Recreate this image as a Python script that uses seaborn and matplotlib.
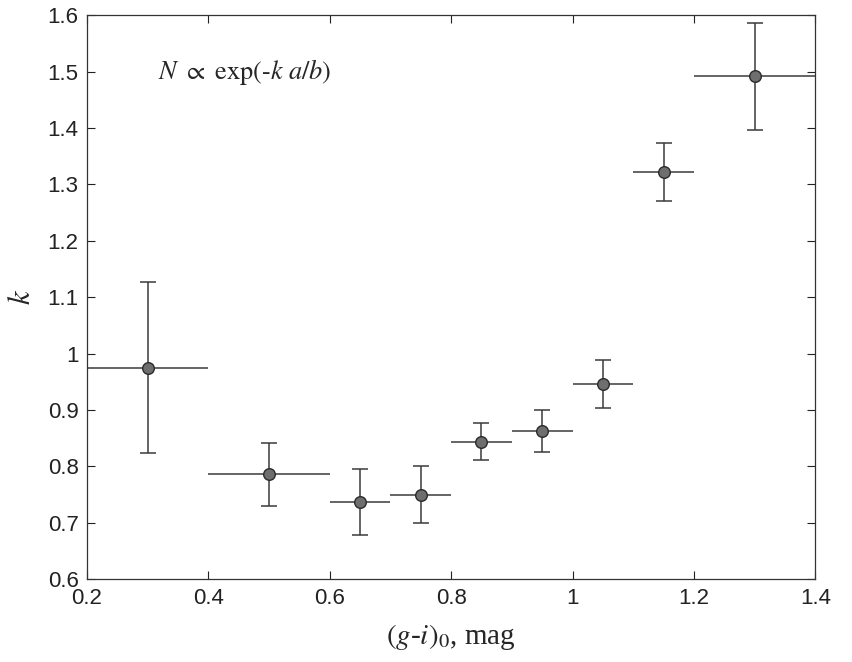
import matplotlib
matplotlib.use("Agg")
import matplotlib.pyplot as plt
import seaborn as sns
import pandas as pd
from matplotlib import font_manager

color_mag = [0.30, 0.50, 0.65, 0.75, 0.85, 0.95, 1.05, 1.15, 1.30]
k_vals    = [0.975, 0.786, 0.737, 0.750, 0.844, 0.863, 0.946, 1.322, 1.492]
x_err     = [0.10, 0.10, 0.05, 0.05, 0.05, 0.05, 0.05, 0.05, 0.10]
k_err     = [0.152, 0.056, 0.058, 0.050, 0.033, 0.037, 0.043, 0.051, 0.095]
x_ticks   = [0.2, 0.4, 0.6, 0.8, 1.0, 1.2, 1.4]
x_labels  = ["0.2", "0.4", "0.6", "0.8", "1", "1.2", "1.4"]
y_ticks   = [0.6, 0.7, 0.8, 0.9, 1.0, 1.1, 1.2, 1.3, 1.4, 1.5, 1.6]
y_labels  = ["0.6", "0.7", "0.8", "0.9", "1", "1.1", "1.2", "1.3", "1.4", "1.5", "1.6"]

df = pd.DataFrame({"x": color_mag, "k": k_vals, "xe": x_err, "ke": k_err})

sns.set_style("ticks")
plt.rcParams["mathtext.fontset"] = "stix"

names = {f.name for f in font_manager.fontManager.ttflist}
tick_family = "Liberation Sans Narrow" if "Liberation Sans Narrow" in names else "Liberation Sans"

fig = plt.figure(figsize=(8.52, 6.62), dpi=100)
ax = fig.add_axes([0.102, 0.125, 0.855, 0.852])

ax.errorbar(df["x"], df["k"], yerr=df["ke"], fmt="none", ecolor="#3a3a3a",
            elinewidth=1.1, capsize=6, capthick=1.1, zorder=2)
ax.errorbar(df["x"], df["k"], xerr=df["xe"], fmt="none", ecolor="#3a3a3a",
            elinewidth=1.1, capsize=0, zorder=2)
sns.scatterplot(data=df, x="x", y="k", ax=ax, s=70, color="#6e6e6e",
                edgecolor="#2a2a2a", linewidth=1.0, zorder=3, legend=False)

ax.set_xlim(0.2, 1.4)
ax.set_ylim(0.6, 1.6)
ax.set_xticks(x_ticks)
ax.set_xticklabels(x_labels)
ax.set_yticks(y_ticks)
ax.set_yticklabels(y_labels)
ax.tick_params(direction="in", top=True, right=True, length=6, width=0.8,
               colors="#222222", labelsize=16, pad=6)
for lab in ax.get_xticklabels() + ax.get_yticklabels():
    lab.set_fontfamily(tick_family)
for sp in ax.spines.values():
    sp.set_visible(True)
    sp.set_linewidth(0.9)
    sp.set_color("#333333")

ax.set_xlabel(r"$(g$-$i)_{\mathrm{0}}$, mag", fontsize=21, family="Liberation Serif", labelpad=10)
ax.set_ylabel(r"$k$", fontsize=22, labelpad=8)
ax.text(0.098, 0.9, r"$N\ \propto\ \mathrm{exp}(\text{-}k\ a/b)$", transform=ax.transAxes,
        fontsize=19, ha="left", va="center")

fig.savefig("out.png", dpi=100)
